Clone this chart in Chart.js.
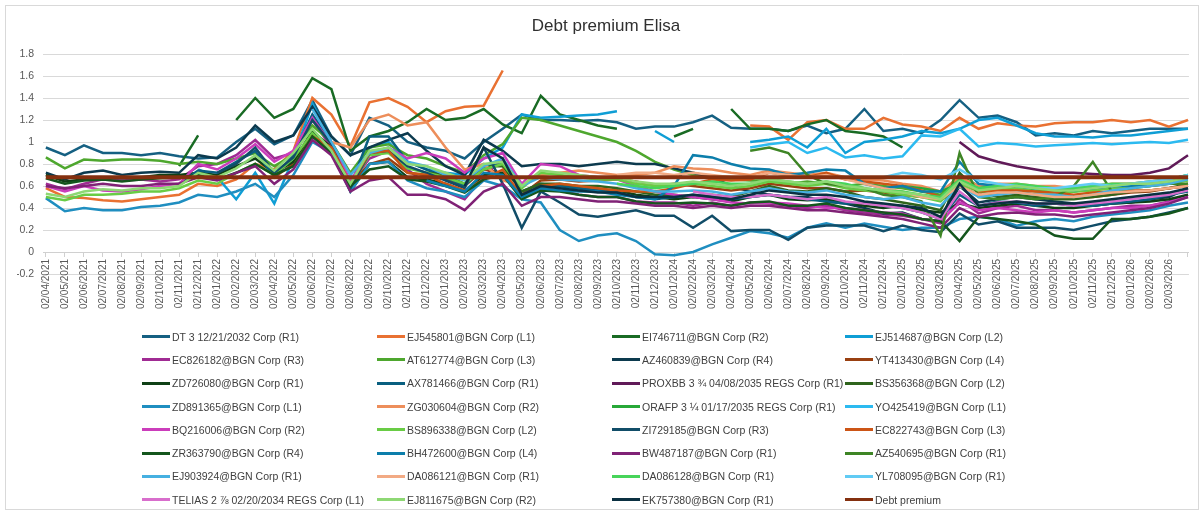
<!DOCTYPE html>
<html>
<head>
<meta charset="utf-8">
<title>Debt premium Elisa</title>
<script src="https://cdn.jsdelivr.net/npm/chart.js@4.4.1/dist/chart.umd.min.js"></script>
<style>
  html, body { margin: 0; padding: 0; background: #fff; }
  #wrap { position: relative; width: 1203px; height: 512px; overflow: hidden; font-family: "Liberation Sans", Arial, sans-serif; }
  #frame { position: absolute; left: 5px; top: 5px; width: 1192px; height: 503px; border: 1px solid #d9d9d9; pointer-events: none; }
  #chart { position: absolute; left: 0; top: 0; }
  #legend { position: absolute; left: 142px; top: 325px; display: grid;
            grid-template-columns: 235px 235px 233px 235px; grid-auto-rows: 23.3px; }
  .item { display: flex; align-items: center; font-size: 10.5px; color: #404040; white-space: nowrap; }
  .swatch { display: inline-block; width: 28px; height: 3px; margin-right: 2px; }
</style>
</head>
<body>
<div id="wrap">
  <canvas id="chart" width="1203" height="512"></canvas>
  <div id="legend"></div>
  <div id="frame"></div>
</div>
<script>
var _ = null;

// month labels on the category axis (dd/mm/yyyy)
var monthLabels = [
  '02/04/2021','02/05/2021','02/06/2021','02/07/2021','02/08/2021','02/09/2021','02/10/2021','02/11/2021','02/12/2021',
  '02/01/2022','02/02/2022','02/03/2022','02/04/2022','02/05/2022','02/06/2022','02/07/2022','02/08/2022','02/09/2022','02/10/2022','02/11/2022','02/12/2022',
  '02/01/2023','02/02/2023','02/03/2023','02/04/2023','02/05/2023','02/06/2023','02/07/2023','02/08/2023','02/09/2023','02/10/2023','02/11/2023','02/12/2023',
  '02/01/2024','02/02/2024','02/03/2024','02/04/2024','02/05/2024','02/06/2024','02/07/2024','02/08/2024','02/09/2024','02/10/2024','02/11/2024','02/12/2024',
  '02/01/2025','02/02/2025','02/03/2025','02/04/2025','02/05/2025','02/06/2025','02/07/2025','02/08/2025','02/09/2025','02/10/2025','02/11/2025','02/12/2025',
  '02/01/2026','02/02/2026','02/03/2026'
];

// monthly readings, one value per month from 04/2021 (index 0) to end of 03/2026 (index 60)
var dt3 = [
  0.95,0.88,0.97,0.9,0.9,0.88,0.9,0.87,0.85,0.86,
  1.0,1.12,0.98,1.06,1.38,1.05,0.88,1.22,1.15,1.0,
  0.95,0.92,0.85,1.0,1.12,1.25,1.2,1.2,1.19,1.2,
  1.18,1.12,1.14,1.14,1.18,1.24,1.13,1.12,1.12,1.1,
  1.15,1.08,1.12,1.3,1.1,1.12,1.08,1.2,1.38,1.22,
  1.24,1.18,1.06,1.08,1.06,1.1,1.08,1.1,1.12,1.12,
  1.12];
var ej545801 = [
  0.58,0.5,0.49,0.47,0.46,0.48,0.5,0.52,0.62,0.6,
  0.66,0.8,0.75,0.92,1.4,1.25,0.96,1.36,1.4,1.32,
  1.18,1.28,1.32,1.33,1.65,_,_,_,_,_,
  _,_,_,_,_,_,_,1.15,1.14,1.02,
  1.18,1.2,1.12,1.12,1.22,1.16,1.14,1.1,1.22,1.12,
  1.17,1.15,1.14,1.17,1.18,1.18,1.2,1.18,1.2,1.14,
  1.2];
var ei746711 = [
  _,_,_,_,_,_,_,0.78,1.06,_,
  1.2,1.4,1.22,1.3,1.58,1.48,0.92,1.05,1.1,1.18,
  1.3,1.2,1.22,1.3,1.16,1.08,1.42,1.25,1.2,1.15,
  1.12,_,_,1.05,1.12,_,1.3,1.12,1.12,1.1,
  1.16,1.2,1.1,1.08,1.05,0.95,_,_,_,_,
  _,_,_,_,_,_,_,_,_,_,
  _];
var ej514687 = [
  _,_,_,_,_,_,_,_,0.75,0.68,
  0.48,0.72,0.44,0.85,1.35,1.0,0.7,0.95,1.0,0.82,
  0.75,0.72,0.7,0.85,0.95,1.25,1.22,1.23,1.24,1.25,
  1.28,_,1.1,1.0,_,_,_,1.0,1.02,1.05,
  0.95,1.12,0.9,1.0,1.02,1.05,1.1,1.08,1.12,1.2,
  1.22,1.15,1.08,1.05,1.05,1.04,1.06,1.06,1.08,1.1,
  1.12];
var ec826182 = [
  0.62,0.57,0.62,0.66,0.65,0.66,0.64,0.66,0.78,0.8,
  0.88,1.02,0.85,0.9,1.2,0.95,0.62,0.85,0.92,0.75,
  0.62,0.55,0.48,0.68,0.85,0.5,0.58,0.56,0.52,0.5,
  0.5,0.46,0.45,0.45,0.42,0.45,0.42,0.45,0.44,0.42,
  0.4,0.42,0.38,0.36,0.34,0.33,0.3,0.26,0.48,0.35,
  0.4,0.42,0.38,0.38,0.36,0.38,0.4,0.42,0.42,0.46,
  0.52];
var at612774 = [
  0.86,0.76,0.84,0.83,0.84,0.84,0.83,0.8,0.82,0.8,
  0.85,0.9,0.78,0.88,1.15,1.0,0.72,0.95,0.98,0.88,
  0.85,0.78,0.72,0.88,0.98,1.22,1.2,1.15,1.1,1.05,
  1.0,0.92,0.82,0.75,0.7,0.68,0.66,0.65,0.65,0.62,
  0.64,0.62,0.6,0.62,0.6,0.58,0.55,0.52,0.7,0.6,
  0.58,0.6,0.58,0.55,0.55,0.58,0.6,0.62,0.62,0.66,
  0.7];
var az460839 = [
  0.72,0.66,0.72,0.74,0.7,0.72,0.73,0.72,0.88,0.85,
  0.95,1.15,1.0,1.06,1.32,1.05,0.88,0.95,1.02,1.08,
  0.92,0.78,0.7,1.02,0.92,0.78,0.8,0.8,0.78,0.8,
  0.82,0.8,0.8,0.76,0.72,0.68,0.6,0.55,0.52,0.5,
  0.5,0.46,0.44,0.4,0.35,0.36,0.3,0.28,0.6,0.45,
  0.48,0.5,0.48,0.46,0.44,0.42,0.44,0.45,0.48,0.5,
  0.58];
var yt413430 = [
  _,_,_,_,_,_,_,_,_,_,
  _,_,0.68,0.8,1.1,0.9,0.62,0.8,0.85,0.72,
  0.7,0.66,0.6,0.75,0.72,0.52,0.65,0.66,0.64,0.65,
  0.66,0.64,0.6,0.62,0.6,0.58,0.56,0.58,0.62,0.6,
  0.58,0.58,0.55,0.56,0.54,0.52,0.5,0.48,0.6,0.52,
  0.54,0.55,0.52,0.52,0.5,0.5,0.52,0.54,0.55,0.58,
  0.6];
var zd726080 = [
  0.7,0.64,0.66,0.68,0.67,0.68,0.7,0.7,0.72,0.7,
  0.78,0.85,0.72,0.82,1.1,0.95,0.55,0.8,0.82,0.68,
  0.66,0.62,0.55,0.7,0.72,0.5,0.6,0.6,0.58,0.56,
  0.56,0.52,0.5,0.48,0.5,0.48,0.46,0.5,0.52,0.48,
  0.47,0.48,0.45,0.42,0.4,0.42,0.38,0.36,0.44,0.4,
  0.42,0.44,0.42,0.4,0.4,0.42,0.44,0.45,0.46,0.48,
  0.52];
var ax781466 = [
  _,_,_,_,_,_,_,0.62,0.74,0.72,
  0.82,0.92,0.68,0.88,1.25,1.0,0.6,1.05,1.05,0.82,
  0.75,0.68,0.6,0.78,0.8,0.55,0.62,0.6,0.58,0.56,
  0.54,0.5,0.48,0.5,0.52,0.5,0.48,0.5,0.52,0.5,
  0.48,0.46,0.44,0.45,0.42,0.4,0.36,0.3,0.52,0.42,
  0.46,0.45,0.42,0.44,0.42,0.42,0.44,0.46,0.48,0.52,
  0.55];
var proxbb = [
  _,_,_,_,_,_,_,_,_,_,
  _,_,_,_,_,_,_,_,_,_,
  _,_,_,_,_,_,_,_,_,_,
  _,_,_,_,_,_,_,_,_,_,
  _,_,_,_,_,_,_,_,1.0,0.87,
  0.82,0.78,0.75,0.72,0.72,0.71,0.7,0.7,0.72,0.76,
  0.88];
var bs356368 = [
  _,_,_,_,_,_,_,_,_,_,
  _,_,_,_,_,_,_,_,_,_,
  0.72,0.7,0.62,0.78,0.78,0.55,0.62,0.62,0.6,0.6,
  0.58,0.55,0.52,0.52,0.5,0.52,0.5,0.55,0.6,0.56,
  0.55,0.58,0.55,0.5,0.48,0.45,0.42,0.38,0.72,0.55,
  0.5,0.52,0.5,0.48,0.48,0.5,0.52,0.55,0.56,0.58,
  0.62];
var zd891365 = [
  0.49,0.37,0.4,0.38,0.38,0.41,0.42,0.45,0.52,0.5,
  0.55,0.62,0.5,0.7,1.0,0.9,0.55,0.8,0.82,0.65,
  0.58,0.55,0.5,0.65,0.6,0.48,0.45,0.2,0.1,0.15,
  0.17,0.1,-0.02,-0.03,0.0,0.07,0.13,0.19,0.17,0.13,
  0.22,0.26,0.22,0.26,0.23,0.2,0.22,0.22,0.3,0.32,
  0.3,0.24,0.28,0.3,0.28,0.32,0.34,0.36,0.38,0.42,
  0.45];
var zg030604 = [
  _,_,_,_,_,_,_,_,_,_,
  _,_,_,_,_,1.0,0.95,1.2,1.25,1.15,
  1.18,0.95,0.75,0.8,0.65,0.6,0.7,0.72,0.74,0.72,
  0.7,0.7,0.72,0.78,0.76,0.75,0.72,0.7,0.74,0.72,
  0.7,0.72,0.68,0.66,0.65,0.62,0.6,0.55,0.68,0.6,
  0.62,0.62,0.6,0.6,0.58,0.6,0.62,0.62,0.64,0.66,
  0.68];
var orafp = [
  _,_,_,_,_,_,_,_,_,_,
  _,_,_,_,_,_,_,_,_,_,
  _,_,_,_,_,_,_,_,_,_,
  _,_,_,_,_,_,_,_,_,_,
  _,_,_,_,_,0.6,0.58,0.55,0.62,0.58,
  0.6,0.58,0.56,0.55,0.55,0.57,0.58,0.6,0.6,0.64,
  0.68];
var yo425419 = [
  _,_,_,_,_,_,_,_,_,_,
  _,_,_,_,_,_,_,_,_,_,
  _,_,_,_,_,_,_,_,_,_,
  _,_,_,_,_,_,_,0.95,0.98,1.0,
  0.9,0.95,0.86,0.88,0.85,0.87,1.06,1.05,1.12,0.96,
  0.99,0.98,0.96,0.97,0.98,0.99,0.98,0.99,1.0,0.99,
  1.02];
var bq216006 = [
  0.6,0.55,0.6,0.56,0.55,0.57,0.6,0.62,0.8,0.75,
  0.85,0.98,0.82,0.92,1.22,0.98,0.65,0.9,0.95,0.85,
  0.9,0.85,0.72,0.85,0.9,0.62,0.8,0.78,0.7,0.68,
  0.66,0.6,0.55,0.52,0.5,0.48,0.45,0.44,0.45,0.44,
  0.42,0.4,0.4,0.38,0.36,0.35,0.3,0.28,0.45,0.38,
  0.4,0.38,0.36,0.38,0.36,0.38,0.4,0.4,0.42,0.45,
  0.5];
var bs896338 = [
  0.5,0.47,0.52,0.52,0.53,0.55,0.55,0.58,0.65,0.62,
  0.72,0.8,0.7,0.85,1.08,0.9,0.6,0.88,0.9,0.76,
  0.72,0.68,0.62,0.75,0.8,0.58,0.72,0.7,0.68,0.66,
  0.66,0.62,0.6,0.6,0.62,0.6,0.58,0.6,0.64,0.62,
  0.6,0.62,0.58,0.56,0.55,0.52,0.5,0.46,0.62,0.55,
  0.56,0.58,0.55,0.54,0.55,0.56,0.58,0.6,0.6,0.62,
  0.65];
var zi729185 = [
  _,_,_,_,_,_,_,_,_,0.72,
  0.8,0.95,0.72,0.86,1.2,0.98,0.58,0.9,0.92,0.78,
  0.72,0.65,0.58,0.95,0.62,0.22,0.55,0.45,0.34,0.32,
  0.35,0.38,0.33,0.33,0.22,0.33,0.19,0.2,0.2,0.11,
  0.22,0.24,0.24,0.24,0.19,0.24,0.2,0.18,0.35,0.25,
  0.28,0.22,0.22,0.22,0.2,0.24,0.28,0.3,0.32,0.36,
  0.4];
var ec822743 = [
  _,_,_,_,_,_,_,_,_,_,
  _,_,_,0.78,1.05,0.95,0.62,0.9,0.92,0.72,
  0.7,0.62,0.56,0.66,0.75,0.5,0.6,0.62,0.6,0.58,
  0.56,0.55,0.55,0.58,0.62,0.66,0.65,0.66,0.72,0.7,
  0.68,0.72,0.66,0.64,0.62,0.6,0.56,0.5,0.65,0.55,
  0.56,0.56,0.55,0.54,0.52,0.54,0.55,0.56,0.56,0.58,
  0.6];
var zr363790 = [
  0.67,0.62,0.65,0.66,0.64,0.66,0.67,0.68,0.7,0.66,
  0.72,0.8,0.7,0.78,1.05,0.9,0.6,0.75,0.78,0.66,
  0.64,0.6,0.54,0.66,0.7,0.48,0.56,0.55,0.52,0.5,
  0.5,0.46,0.44,0.44,0.45,0.44,0.42,0.45,0.46,0.42,
  0.42,0.44,0.4,0.38,0.36,0.34,0.3,0.28,0.1,0.32,
  0.3,0.28,0.25,0.15,0.12,0.12,0.3,0.3,0.32,0.35,
  0.4];
var bh472600 = [
  _,_,_,_,_,_,_,_,_,_,
  _,_,_,_,_,_,_,_,_,_,
  0.65,0.6,0.55,0.72,0.7,0.5,0.58,0.56,0.55,0.55,
  0.52,0.5,0.48,0.6,0.88,0.86,0.8,0.76,0.75,0.7,
  0.72,0.75,0.74,0.62,0.58,0.6,0.55,0.55,0.82,0.62,
  0.6,0.6,0.58,0.58,0.56,0.58,0.6,0.6,0.62,0.64,
  0.68];
var bw487187 = [
  0.6,0.58,0.6,0.62,0.6,0.6,0.62,0.62,0.68,0.65,
  0.72,0.78,0.62,0.75,1.02,0.88,0.55,0.65,0.68,0.52,
  0.52,0.48,0.38,0.55,0.62,0.42,0.5,0.5,0.48,0.46,
  0.46,0.44,0.42,0.42,0.4,0.42,0.4,0.42,0.42,0.4,
  0.38,0.38,0.36,0.34,0.32,0.3,0.26,0.22,0.4,0.32,
  0.35,0.36,0.34,0.34,0.32,0.34,0.36,0.38,0.4,0.44,
  0.5];
var az540695 = [
  _,_,_,_,_,_,_,_,_,_,
  _,_,_,_,_,_,_,_,_,_,
  _,_,_,_,_,_,_,_,_,_,
  _,_,_,_,_,_,_,0.92,0.95,0.9,
  0.7,0.62,0.6,0.58,0.52,0.5,0.46,0.15,0.9,0.5,
  0.48,0.5,0.48,0.5,0.6,0.82,0.55,0.58,0.6,0.62,
  0.62];
var ej903924 = [
  _,_,_,_,_,_,_,_,_,_,
  _,_,_,_,1.3,1.0,0.7,0.9,0.95,0.82,
  0.78,0.7,0.65,0.78,0.85,0.6,0.68,0.66,0.65,0.64,
  0.62,0.58,0.55,0.55,0.56,0.55,0.52,0.55,0.58,0.55,
  0.54,0.56,0.52,0.5,0.48,0.5,0.45,0.42,0.6,0.5,
  0.52,0.54,0.52,0.52,0.5,0.52,0.56,0.58,0.6,0.62,
  0.66];
var da086121 = [
  _,_,_,_,_,_,_,_,_,_,
  _,_,_,_,_,_,_,_,_,_,
  _,_,_,_,_,_,_,_,_,_,
  0.7,0.72,0.72,0.7,0.72,0.7,0.68,0.68,0.72,0.7,
  0.68,0.7,0.66,0.62,0.58,0.55,0.5,0.48,0.6,0.52,
  0.54,0.54,0.52,0.5,0.5,0.52,0.54,0.55,0.56,0.58,
  0.6];
var da086128 = [
  _,_,_,_,_,_,_,_,_,_,
  _,_,_,_,_,_,_,_,_,_,
  _,_,_,_,_,_,_,_,_,_,
  0.62,0.6,0.58,0.6,0.62,0.64,0.62,0.62,0.66,0.64,
  0.62,0.64,0.62,0.58,0.56,0.55,0.52,0.5,0.66,0.58,
  0.6,0.62,0.6,0.58,0.58,0.6,0.62,0.62,0.64,0.66,
  0.7];
var yl708095 = [
  _,_,_,_,_,_,_,_,_,_,
  _,_,_,_,_,_,_,_,_,_,
  _,_,_,_,_,_,_,_,_,_,
  _,_,_,_,_,_,_,_,_,_,
  _,_,_,_,0.68,0.72,0.7,0.66,0.75,0.65,
  0.62,0.6,0.58,0.58,0.6,0.62,0.6,0.62,0.64,0.66,
  0.7];
var telias = [
  _,_,_,_,_,_,_,_,_,_,
  _,_,_,_,_,_,_,_,_,_,
  _,_,_,_,_,_,_,_,_,_,
  _,_,_,_,0.55,0.52,0.5,0.5,0.52,0.5,
  0.48,0.5,0.46,0.44,0.42,0.4,0.36,0.3,0.55,0.42,
  0.45,0.46,0.44,0.44,0.42,0.44,0.46,0.48,0.5,0.52,
  0.56];
var ej811675 = [
  0.53,0.5,0.55,0.57,0.56,0.58,0.58,0.6,0.72,0.68,
  0.76,0.88,0.74,0.9,1.12,0.92,0.62,0.92,0.95,0.8,
  0.78,0.72,0.66,0.8,0.82,0.6,0.74,0.72,0.7,0.68,
  0.68,0.64,0.62,0.62,0.64,0.62,0.6,0.62,0.66,0.64,
  0.62,0.64,0.6,0.58,0.56,0.54,0.52,0.48,0.64,0.56,
  0.58,0.6,0.58,0.56,0.56,0.58,0.6,0.62,0.62,0.64,
  0.68];
var ek757380 = [
  _,_,_,_,_,_,_,_,_,_,
  _,_,_,_,_,_,_,_,_,_,
  _,_,0.6,0.95,0.85,0.52,0.6,0.58,0.56,0.54,
  0.54,0.5,0.5,0.5,0.52,0.5,0.48,0.52,0.56,0.54,
  0.52,0.52,0.5,0.46,0.44,0.42,0.4,0.32,0.62,0.42,
  0.44,0.46,0.44,0.44,0.44,0.46,0.48,0.5,0.52,0.54,
  0.58];
var debtPremium = [
  0.68,0.68,0.68,0.68,0.68,0.68,0.68,0.68,0.68,0.68,
  0.68,0.68,0.68,0.68,0.68,0.68,0.68,0.68,0.68,0.68,
  0.68,0.68,0.68,0.68,0.68,0.68,0.68,0.68,0.68,0.68,
  0.68,0.68,0.68,0.68,0.68,0.68,0.68,0.68,0.68,0.68,
  0.68,0.68,0.68,0.68,0.68,0.68,0.68,0.68,0.68,0.68,
  0.68,0.68,0.68,0.68,0.68,0.68,0.68,0.68,0.68,0.68,
  0.68];

var seriesNames = [
  'DT 3 12/21/2032 Corp (R1)', 'EJ545801@BGN Corp (L1)', 'EI746711@BGN Corp (R2)', 'EJ514687@BGN Corp (L2)',
  'EC826182@BGN Corp (R3)', 'AT612774@BGN Corp (L3)', 'AZ460839@BGN Corp (R4)', 'YT413430@BGN Corp (L4)',
  'ZD726080@BGN Corp (R1)', 'AX781466@BGN Corp (R1)', 'PROXBB 3 \u00be 04/08/2035 REGS Corp (R1)', 'BS356368@BGN Corp (L2)',
  'ZD891365@BGN Corp (L1)', 'ZG030604@BGN Corp (R2)', 'ORAFP 3 \u00bc 01/17/2035 REGS Corp (R1)', 'YO425419@BGN Corp (L1)',
  'BQ216006@BGN Corp (R2)', 'BS896338@BGN Corp (L2)', 'ZI729185@BGN Corp (R3)', 'EC822743@BGN Corp (L3)',
  'ZR363790@BGN Corp (R4)', 'BH472600@BGN Corp (L4)', 'BW487187@BGN Corp (R1)', 'AZ540695@BGN Corp (R1)',
  'EJ903924@BGN Corp (R1)', 'DA086121@BGN Corp (R1)', 'DA086128@BGN Corp (R1)', 'YL708095@BGN Corp (R1)',
  'TELIAS 2 \u215e 02/20/2034 REGS Corp (L1)', 'EJ811675@BGN Corp (R2)', 'EK757380@BGN Corp (R1)', 'Debt premium'
];
var seriesValues = [
  dt3, ej545801, ei746711, ej514687, ec826182, at612774, az460839, yt413430,
  zd726080, ax781466, proxbb, bs356368, zd891365, zg030604, orafp, yo425419,
  bq216006, bs896338, zi729185, ec822743, zr363790, bh472600, bw487187, az540695,
  ej903924, da086121, da086128, yl708095, telias, ej811675, ek757380, debtPremium
];
// office palette: accents, then darker / lighter variants
var seriesColors = [
  '#156082', '#E97132', '#196B24', '#0F9ED5', '#A02B93', '#4EA72E',
  '#0C3A4E', '#994011', '#0F4016', '#095F80', '#601A58', '#2F641C',
  '#1F8EC0', '#ED8E5B', '#27A838', '#2CBAF0', '#CB3DBB', '#69CC45',
  '#114D68', '#CC5516', '#14561D', '#0C7EAB', '#802276', '#3E8525',
  '#46B0E1', '#F2AA84', '#47D45A', '#61CBF4', '#D86ECC', '#8ED874',
  '#0A3041', '#84300F'
];

function toPoints(vals) {
  return vals.map(function(v, i) { return {x: i, y: v}; });
}

var datasets = [];
for (var i = 0; i < seriesValues.length; i++) {
  var last = i === seriesValues.length - 1;
  datasets.push({
    label: seriesNames[i],
    data: toPoints(seriesValues[i]),
    borderColor: seriesColors[i],
    backgroundColor: seriesColors[i],
    borderWidth: last ? 4 : 2.5,
    pointRadius: 0,
    tension: 0,
    spanGaps: false,
    order: seriesValues.length - i   // later series drawn on top, like excel
  });
}

var axisGrey = '#595959';
var chart = new Chart(document.getElementById('chart').getContext('2d'), {
  type: 'line',
  data: { datasets: datasets },
  options: {
    responsive: false,
    animation: false,
    layout: { padding: { left: 17, right: 8, top: 0, bottom: 238 } },
    plugins: {
      legend: { display: false },
      tooltip: { enabled: false },
      title: {
        display: true,
        text: 'Debt premium Elisa',
        color: '#303030',
        font: { family: 'Liberation Sans', size: 17, weight: 'normal' },
        padding: { top: 16, bottom: 17.6 }
      }
    },
    scales: {
      x: {
        type: 'linear',
        position: { y: 0 },
        min: -0.15,
        max: 60.05,
        grid: { drawOnChartArea: false, drawTicks: true, tickLength: 4, color: '#d0d0d0' },
        border: { color: '#d0d0d0' },
        ticks: {
          stepSize: 1,
          includeBounds: false,
          autoSkip: false,
          minRotation: 90,
          maxRotation: 90,
          padding: 3,
          color: axisGrey,
          font: { family: 'Liberation Sans', size: 10 },
          callback: function(v) { return monthLabels[v] || ''; }
        }
      },
      y: {
        min: -0.2,
        max: 1.8,
        afterFit: function(s) { s.width = 26; },
        grid: { color: '#d9d9d9', drawTicks: false },
        border: { display: false },
        ticks: {
          stepSize: 0.2,
          padding: 9,
          color: axisGrey,
          font: { family: 'Liberation Sans', size: 10.5 },
          callback: function(v) { return String(Math.round(v * 10) / 10); }
        }
      }
    }
  }
});

// legend in four columns, in series order
var legend = document.getElementById('legend');
chart.data.datasets.forEach(function(ds) {
  var item = document.createElement('div');
  item.className = 'item';
  var sw = document.createElement('span');
  sw.className = 'swatch';
  sw.style.background = ds.borderColor;
  var txt = document.createElement('span');
  txt.textContent = ds.label;
  item.appendChild(sw);
  item.appendChild(txt);
  legend.appendChild(item);
});
</script>
</body>
</html>
